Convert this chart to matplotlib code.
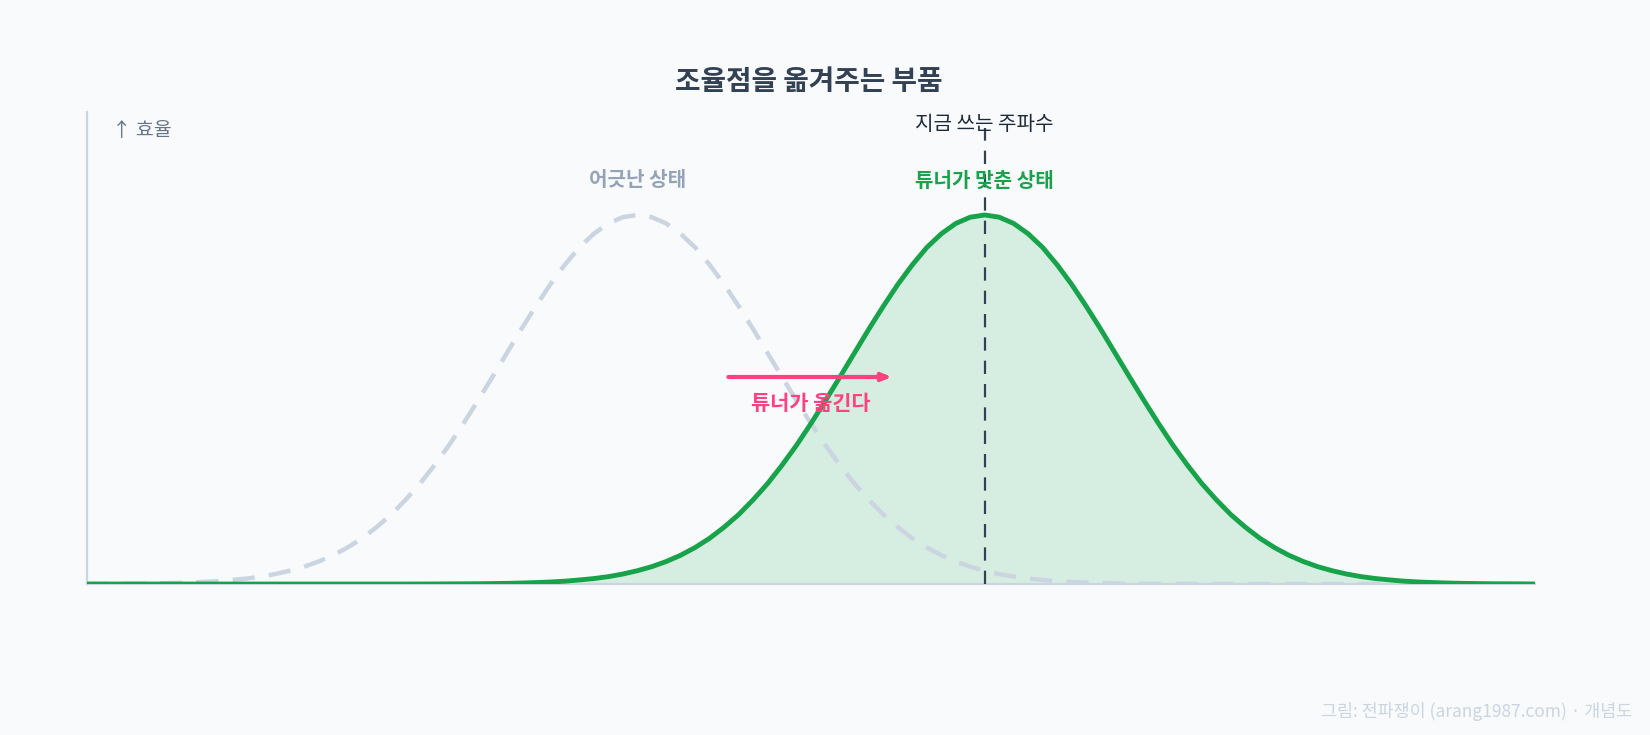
import matplotlib
matplotlib.use("Agg")
import matplotlib.pyplot as plt

plt.rcParams['font.family'] = ['Noto Sans CJK KR', 'DejaVu Sans']

# frequency axis (arbitrary units) and relative efficiency
freq = list(range(0, 101))
detuned = [0.0002, 0.0004, 0.0006, 0.0008, 0.0013, 0.0018, 0.0027, 0.0039, 0.0055, 0.0077,
           0.011, 0.0148, 0.020, 0.027, 0.036, 0.047, 0.061, 0.078, 0.099, 0.124,
           0.154, 0.188, 0.228, 0.272, 0.322, 0.376, 0.435, 0.497, 0.561, 0.626,
           0.691, 0.753, 0.812, 0.865, 0.912, 0.949, 0.977, 0.994, 1.0, 0.994,
           0.977, 0.949, 0.912, 0.865, 0.812, 0.753, 0.691, 0.626, 0.561, 0.497,
           0.435, 0.376, 0.322, 0.272, 0.228, 0.188, 0.154, 0.124, 0.099, 0.078,
           0.061, 0.047, 0.036, 0.027, 0.020, 0.0148, 0.011, 0.0077, 0.0055, 0.0039,
           0.0027, 0.0018, 0.0013, 0.0008, 0.0006, 0.0004, 0.0002, 0.0001, 0.0, 0.0,
           0.0, 0.0, 0.0, 0.0, 0.0, 0.0, 0.0, 0.0, 0.0, 0.0,
           0.0, 0.0, 0.0, 0.0, 0.0, 0.0, 0.0, 0.0, 0.0, 0.0, 0.0]
tuned = [0.0, 0.0, 0.0, 0.0, 0.0, 0.0, 0.0, 0.0, 0.0, 0.0,
         0.0, 0.0, 0.0, 0.0, 0.0, 0.0, 0.0, 0.0, 0.0, 0.0,
         0.0, 0.0, 0.0, 0.0001, 0.0002, 0.0004, 0.0006, 0.0008, 0.0013, 0.0018,
         0.0027, 0.0039, 0.0055, 0.0077, 0.011, 0.0148, 0.020, 0.027, 0.036, 0.047,
         0.061, 0.078, 0.099, 0.124, 0.154, 0.188, 0.228, 0.272, 0.322, 0.376,
         0.435, 0.497, 0.561, 0.626, 0.691, 0.753, 0.812, 0.865, 0.912, 0.949,
         0.977, 0.994, 1.0, 0.994, 0.977, 0.949, 0.912, 0.865, 0.812, 0.753,
         0.691, 0.626, 0.561, 0.497, 0.435, 0.376, 0.322, 0.272, 0.228, 0.188,
         0.154, 0.124, 0.099, 0.078, 0.061, 0.047, 0.036, 0.027, 0.020, 0.0148,
         0.011, 0.0077, 0.0055, 0.0039, 0.0027, 0.0018, 0.0013, 0.0008, 0.0006, 0.0004, 0.0002]
detuned_peak = 38
tuned_peak = 62
shift_from, shift_to, shift_level = 44.3, 55.6, 0.561

bg = '#f8fafc'
slate = '#334155'
light = '#cbd5e1'
green = '#16a34a'
pink = '#ff4081'

fig = plt.figure(figsize=(16.5, 7.35), dpi=100, facecolor=bg)
ax = fig.add_axes([0.0527, 0.2054, 0.8776, 0.6422])
ax.set_facecolor(bg)
ax.set_xlim(0, 100)
ax.set_ylim(0, 1.279)

ax.plot(freq, detuned, color=light, lw=3.2, dashes=(5, 3.2), zorder=2)
ax.fill_between(freq, tuned, 0, color=green, alpha=0.15, lw=0, zorder=1)
ax.plot(freq, tuned, color=green, lw=3.5, solid_capstyle='butt', zorder=3)

ax.plot([tuned_peak, tuned_peak], [0, 1.236], color=slate, lw=1.6,
        dashes=(6, 4.5), zorder=4)

ax.annotate('', xy=(shift_to, shift_level), xytext=(shift_from, shift_level),
            arrowprops=dict(arrowstyle='-|>,head_length=0.55,head_width=0.22',
                            color=pink, lw=3, shrinkA=0, shrinkB=0,
                            capstyle='round'), zorder=5)
ax.text((shift_from + shift_to) / 2, 0.49, '튜너가 옮긴다', color=pink,
        fontsize=15, fontweight='bold', ha='center', va='center', zorder=6)

ax.text(detuned_peak, 1.095, '어긋난 상태', color='#94a3b8', fontsize=14.5,
        fontweight='bold', ha='center', va='center')
ax.text(tuned_peak, 1.095, '튜너가 맞춘 상태', color=green, fontsize=14.5,
        fontweight='bold', ha='center', va='center', zorder=6)
ax.text(tuned_peak, 1.245, '지금 쓰는 주파수', color='#1e293b', fontsize=14.5,
        fontweight='medium', ha='center', va='center', zorder=6)
ax.text(1.73, 1.23, '↑ 효율', color='#64748b', fontsize=14,
        ha='left', va='center')

for side in ['top', 'right']:
    ax.spines[side].set_visible(False)
for side in ['left', 'bottom']:
    ax.spines[side].set_color(light)
    ax.spines[side].set_linewidth(1.6)
ax.set_xticks([])
ax.set_yticks([])

fig.text(0.49, 0.888, '조율점을 옮겨주는 부품', color=slate, fontsize=20,
         fontweight='bold', ha='center', va='center')
fig.text(0.989, 0.032, '그림: 전파쟁이 (arang1987.com) · 개념도', color=light,
         fontsize=12.5, ha='right', va='center')

fig.savefig('out.png', dpi=100, facecolor=bg)
